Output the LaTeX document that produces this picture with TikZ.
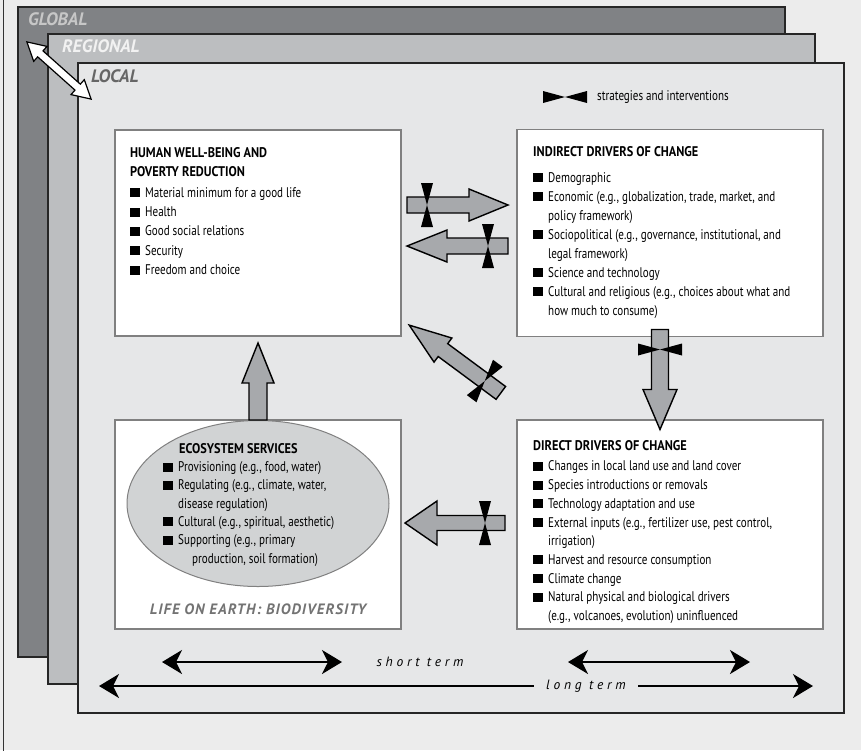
\documentclass[tikz,border=0pt]{standalone}
\usepackage{fontspec}
\setmainfont{PT Sans}[FakeStretch=0.79]
\newfontfamily\headfont{PT Sans}[FakeStretch=0.88]
\newfontfamily\framefont{PT Sans}
\newfontfamily\lifefont{PT Sans}[LetterSpace=7]
\newfontfamily\termfont{PT Sans}[LetterSpace=28]
\usetikzlibrary{shapes.geometric, calc, positioning, arrows.meta}

\definecolor{pagegray}{HTML}{ECECEC}
\definecolor{globalgray}{HTML}{808285}
\definecolor{regionalgray}{HTML}{BCBEC0}
\definecolor{localgray}{HTML}{E6E7E8}
\definecolor{fatgray}{HTML}{A7A9AC}
\definecolor{ellgray}{HTML}{D1D3D4}
\definecolor{rimgray}{HTML}{808080}

\newcommand\blt{\rule{10pt}{9pt}\hspace{5pt}}
\newcommand\cont{\hspace*{15pt}}
\newcommand\head[1]{{\headfont\bfseries #1}}

% #1 placement, #2 length, #3 head length, #4 half head width, #5 half shaft width
\newcommand\fatarrow[5]{%
  \begin{scope}[#1]
    \draw[fatline] (-#2/2,-#5) -- ({#2/2-#3},-#5) -- ({#2/2-#3},-#4) -- (#2/2,0)
      -- ({#2/2-#3},#4) -- ({#2/2-#3},#5) -- (-#2/2,#5) -- cycle;
  \end{scope}}
\newcommand\tiedarrow[5]{%
  \fatarrow{#1}{#2}{#3}{#4}{#5}
  \begin{scope}[#1]
    \fill ({-#2/2+14},-22) -- ({-#2/2+20},0) -- ({-#2/2+26},-22) -- cycle;
    \fill ({-#2/2+14},22) -- ({-#2/2+20},0) -- ({-#2/2+26},22) -- cycle;
  \end{scope}}

\tikzset{
  layer/.style={draw=black!85, line width=1.2pt, minimum width=767pt, minimum height=650pt, inner sep=0pt, outer sep=0pt},
  panel/.style={draw=rimgray, fill=white, line width=1.4pt, inner sep=0pt, outer sep=0pt},
  list/.style={inner sep=0pt, align=left, font=\fontsize{14}{19}\selectfont},
  scale label/.style={font=\framefont\bfseries\itshape\fontsize{18}{18}\selectfont, inner sep=0pt, anchor=west},
  term label/.style={font=\termfont\itshape\fontsize{13.5}{13.5}\selectfont, inner sep=0pt},
  fatline/.style={line width=1.4pt, fill=fatgray},
  timearrow/.style={line width=1.8pt, {Stealth[length=20pt, width=24pt, inset=6pt]}-{Stealth[length=20pt, width=24pt, inset=6pt]}},
  pics/tie/.style={code={
    \fill (-22,-6) -- (0,0) -- (-22,6) -- cycle;
    \fill (22,-6) -- (0,0) -- (22,6) -- cycle;
  }},
  pics/twoway/.style={code={
    \draw[line width=1.2pt, fill=white] (-43,0) -- (-25,-10) -- (-25,-4) -- (25,-4) -- (25,-10) -- (43,0)
      -- (25,10) -- (25,4) -- (-25,4) -- (-25,10) -- cycle;
  }},
}

\begin{document}
\begin{tikzpicture}[x=1pt, y=-1pt]
  \useasboundingbox (0,0) rectangle (861,750);
  \fill[pagegray] (0,0) rectangle (861,750);
  \draw[line width=1pt, black!80] (3,-5) rectangle (880,760);

  % scale frames
  \node[layer, fill=globalgray] (global) at (401.5,332) {};
  \node[layer, fill=regionalgray, below right=27pt and 30pt of global.north west] (regional) {};
  \node[layer, fill=localgray, below right=29pt and 30pt of regional.north west, minimum width=766pt] (local) {};
  \node[scale label, text=black!22] (global-label) at ($(global.north west)+(10,12)$) {GLOBAL};
  \node[scale label, text=white!95!black] (regional-label) at ($(regional.north west)+(14,12)$) {REGIONAL};
  \node[scale label, text=black!60] (local-label) at ($(local.north west)+(13,13)$) {LOCAL};
  \pic[rotate=-41.7] at ($(regional.north west)+(11,36.5)$) {twoway};

  % legend
  \coordinate (key) at (565,97);
  \pic at (key) {tie};
  \node[anchor=west, inner sep=0pt, font=\fontsize{14}{14}\selectfont, right=32pt of key] (key-text) {strategies and interventions};

  % the four panels
  \node[panel, minimum width=286pt, minimum height=206pt, below right=67pt and 37pt of local.north west] (hwb) {};
  \node[panel, minimum width=306pt, minimum height=207pt, right=116pt of hwb] (ind) {};
  \node[panel, minimum width=286pt, minimum height=209pt, below=84pt of hwb] (eco) {};
  \node[panel, minimum width=306pt, minimum height=209pt, right=116pt of eco] (dir) {};
  \node[ellipse, draw=rimgray, fill=ellgray, line width=1pt, minimum width=262pt, minimum height=166pt, inner sep=0pt, below=0pt of eco.north] (ess) {};

  \node[list, font=\fontsize{14}{19.3}\selectfont, below right=17pt and 15pt of hwb.north west] (hwb-text) {%
    \head{HUMAN WELL-BEING AND}\\
    \head{POVERTY REDUCTION}\\[1.5pt]
    \blt Material minimum for a good life\\
    \blt Health\\
    \blt Good social relations\\
    \blt Security\\
    \blt Freedom and choice};
  \node[list, below right=17pt and 16pt of ind.north west] (ind-text) {%
    \head{INDIRECT DRIVERS OF CHANGE}\\[6.5pt]
    \blt Demographic\\
    \blt Economic (e.g., globalization, trade, market, and\\
    \cont policy framework)\\
    \blt Sociopolitical (e.g., governance, institutional, and\\
    \cont legal framework)\\
    \blt Science and technology\\
    \blt Cultural and religious (e.g., choices about what and\\
    \cont how much to consume)};
  \node[list, font=\fontsize{14}{18.7}\selectfont, below right=20pt and 16pt of dir.north west] (dir-text) {%
    \head{DIRECT DRIVERS OF CHANGE}\\[2pt]
    \blt Changes in local land use and land cover\\
    \blt Species introductions or removals\\
    \blt Technology adaptation and use\\
    \blt External inputs (e.g., fertilizer use, pest control,\\
    \cont irrigation)\\
    \blt Harvest and resource consumption\\
    \blt Climate change\\
    \blt Natural physical and biological drivers\\
    \cont (e.g., volcanoes, evolution) uninfluenced};
  \node[list, font=\fontsize{14}{18.3}\selectfont, below right=23pt and 48pt of eco.north west] (ess-text) {%
    \hspace*{16pt}\head{ECOSYSTEM SERVICES}\\
    \blt Provisioning (e.g., food, water)\\
    \blt Regulating (e.g., climate, water,\\
    \cont disease regulation)\\
    \blt Cultural (e.g., spiritual, aesthetic)\\
    \blt Supporting (e.g., primary\\
    \hspace*{29pt}production, soil formation)};
  \node[inner sep=0pt, font=\lifefont\bfseries\itshape\fontsize{15}{15}\selectfont, text=black!55, above=15pt of eco.south, anchor=base] (life) {LIFE ON EARTH: BIODIVERSITY};

  % fat arrows between panels
  \tiedarrow{shift={($(hwb.east)!.5!(ind.west)+(-1.5,-28)$)}}{101}{39}{16}{8}
  \tiedarrow{shift={($(hwb.east)!.5!(ind.west)+(-1.5,13)$)}, rotate=180}{101}{40}{16}{8}
  \tiedarrow{shift={($(hwb.south east)!.5!(dir.north west)+(-4,-19)$)}, rotate=143.5}{114}{42}{15}{8}
  \fatarrow{shift={($(eco.north)+(0,-38.5)$)}, rotate=90}{77}{40}{16}{9}
  \tiedarrow{shift={($(ind.south)+(-10,43)$)}, rotate=-90}{100}{40}{17}{8.5}
  \tiedarrow{shift={($(eco.east)!.5!(dir.west)+(-4,-1.5)$)}, rotate=180}{100}{32}{22}{7.5}

  % time scales
  \coordinate (st1-l) at (162,662);
  \coordinate (st1-r) at (342,662);
  \coordinate (st2-l) at (568,662);
  \coordinate (st2-r) at (750,662);
  \coordinate (lt-l) at (99,686);
  \coordinate (lt-r) at (813,686);
  \draw[timearrow] (st1-l) -- (st1-r);
  \draw[timearrow] (st2-l) -- (st2-r);
  \node[term label] (short) at (420,662) {short term};
  \draw[timearrow] (lt-l) -- (lt-r) node[term label, pos=0.682, fill=localgray, inner xsep=12pt, inner ysep=3pt] (long) {long term};
\end{tikzpicture}
\end{document}
